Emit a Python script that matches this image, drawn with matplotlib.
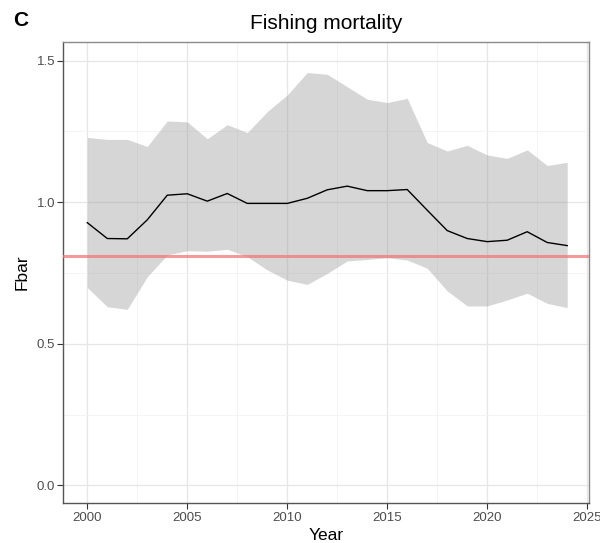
import matplotlib
matplotlib.use("Agg")
import matplotlib.pyplot as plt
from matplotlib.ticker import MultipleLocator, FormatStrFormatter

# Fbar estimates with confidence band
years = list(range(2000, 2025))
fbar = [0.928, 0.872, 0.871, 0.938, 1.025, 1.030, 1.004, 1.031, 0.996, 0.996,
        0.996, 1.014, 1.044, 1.057, 1.041, 1.041, 1.045, 0.972, 0.900, 0.872,
        0.861, 0.866, 0.896, 0.858, 0.847]
upper = [1.229, 1.222, 1.222, 1.197, 1.287, 1.284, 1.224, 1.274, 1.246, 1.320,
         1.379, 1.458, 1.452, 1.408, 1.364, 1.352, 1.367, 1.211, 1.181, 1.201,
         1.167, 1.155, 1.185, 1.130, 1.141]
lower = [0.699, 0.631, 0.622, 0.737, 0.814, 0.829, 0.827, 0.834, 0.808, 0.761,
         0.725, 0.710, 0.749, 0.793, 0.798, 0.804, 0.796, 0.767, 0.687, 0.634,
         0.634, 0.655, 0.679, 0.643, 0.628]
f_ref = 0.81

plt.rcParams['font.family'] = ['Liberation Sans', 'DejaVu Sans']

fig = plt.figure(figsize=(6, 5.43), dpi=100)
ax = fig.add_axes([0.1055, 0.0731, 0.8765, 0.8501])

ax.fill_between(years, lower, upper, color='#999999', alpha=0.4, lw=0, zorder=2)
ax.plot(years, fbar, color='black', lw=1.0, zorder=3)
ax.axhline(f_ref, color='#f07878', lw=2.2, alpha=0.75, zorder=4)

ax.set_xlim(1998.8, 2025.1)
ax.set_ylim(-0.063, 1.567)

ax.xaxis.set_major_locator(MultipleLocator(5))
ax.xaxis.set_minor_locator(MultipleLocator(2.5))
ax.yaxis.set_major_locator(MultipleLocator(0.5))
ax.yaxis.set_minor_locator(MultipleLocator(0.25))
ax.yaxis.set_major_formatter(FormatStrFormatter('%.1f'))

ax.grid(which='major', color='#e6e6e6', lw=0.9, zorder=0)
ax.grid(which='minor', color='#f2f2f2', lw=0.6, zorder=0)
ax.set_axisbelow(True)

for s in ax.spines.values():
    s.set_color('#8a8a8a')
    s.set_linewidth(1.0)
ax.spines['left'].set_color('#555555')
ax.spines['bottom'].set_color('#555555')

ax.tick_params(which='major', length=4, width=0.8, color='#333333',
               labelsize=9.5, labelcolor='#4d4d4d', pad=2)
ax.tick_params(which='minor', length=0)

ax.set_xlabel('Year', fontsize=12.5, color='black', labelpad=3)
ax.set_ylabel('Fbar', fontsize=12.5, color='black', labelpad=5)
ax.set_title('Fishing mortality', fontsize=15, pad=9)

fig.text(0.022, 0.962, 'C', fontsize=15, fontweight='bold', va='center')

fig.savefig('out.png', dpi=100)
